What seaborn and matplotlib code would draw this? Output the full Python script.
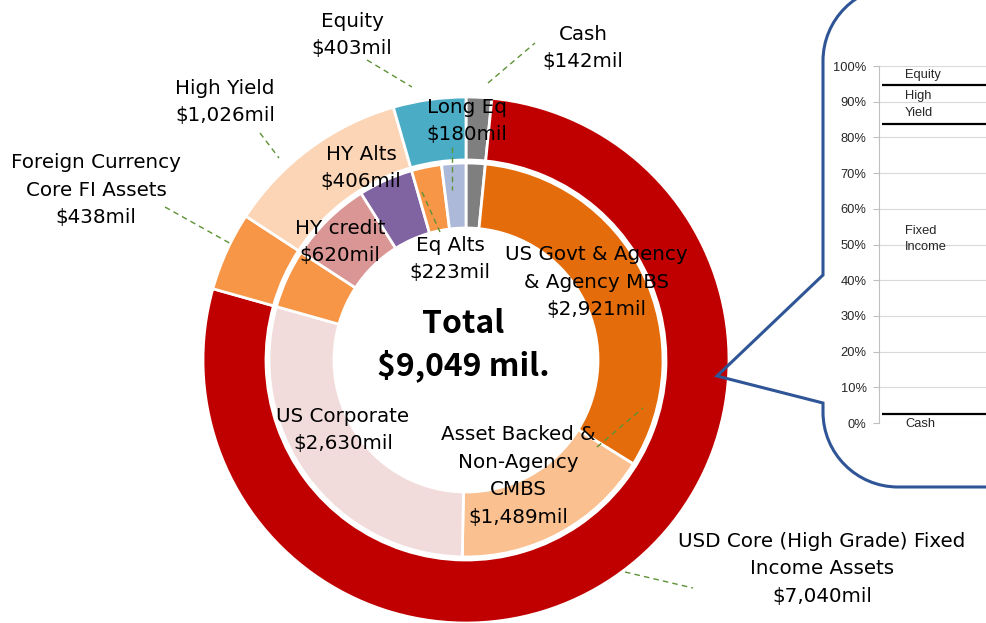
import numpy as np
import matplotlib
matplotlib.use("Agg")
import matplotlib.pyplot as plt
from matplotlib.path import Path
from matplotlib.patches import PathPatch
import seaborn as sns

# ---------------- data ----------------
outer_labels = ["Cash", "USD Core (High Grade) Fixed\nIncome Assets",
                "Foreign Currency\nCore FI Assets", "High Yield", "Equity"]
outer_values = [142, 7040, 438, 1026, 403]
outer_colors = ["#7F7F7F", "#C00000", "#F79646", "#FBD5B5", "#4BACC6"]

inner_labels = ["Cash", "US Govt & Agency\n& Agency MBS", "Asset Backed &\nNon-Agency\nCMBS",
                "US Corporate", "Foreign Currency", "HY credit", "HY Alts", "Eq Alts", "Long Eq"]
inner_values = [142, 2921, 1489, 2630, 438, 620, 406, 223, 180]
inner_colors = ["#7F7F7F", "#E46C0A", "#FAC090", "#F2DCDB", "#F79646",
                "#D99694", "#8064A2", "#F79646", "#ADB9D8"]

callout_labels = ["Cash", "Fixed\nIncome", "High\nYield", "Equity"]
callout_bounds = [0.025, 0.837, 0.947]          # black separators (share of total)
callout_ticks = [0, 10, 20, 30, 40, 50, 60, 70, 80, 90, 100]

# ---------------- style ----------------
sns.set_theme(style="white")
plt.rcParams['font.family'] = ['DejaVu Sans', 'Noto Sans CJK JP']

W, H = 986, 623
fig = plt.figure(figsize=(W / 100, H / 100), dpi=100)
ax = fig.add_axes([0, 0, 1, 1])

def Y(py):
    return H - py

CX, CY = 466, Y(360)
ax.pie(outer_values, colors=outer_colors, radius=263, center=(CX, CY),
       startangle=90, counterclock=False, frame=False,
       wedgeprops=dict(width=63, edgecolor="white", linewidth=2))
ax.pie(inner_values, colors=inner_colors, radius=197, center=(CX, CY),
       startangle=90, counterclock=False, frame=False,
       wedgeprops=dict(width=65, edgecolor="white", linewidth=2))
ax.set_xlim(0, W)
ax.set_ylim(0, H)
ax.set_aspect("auto")
ax.axis("off")

FS = 14.3
LS = 1.58

def lab(text, x, y, fs=FS, ls=LS, **kw):
    ax.text(x, Y(y), text, ha="center", va="center", fontsize=fs,
            linespacing=ls, color="black", zorder=5, **kw)

def money(v):
    return f"${v:,}mil"

# outer labels
lab(f"{outer_labels[4]}\n{money(outer_values[4])}", 352, 35)
lab(f"{outer_labels[0]}\n{money(outer_values[0])}", 583, 48)
lab(f"{outer_labels[3]}\n{money(outer_values[3])}", 225, 102)
lab(f"{outer_labels[2]}\n{money(outer_values[2])}", 96, 190)
lab(f"{outer_labels[1]}\n{money(outer_values[1])}", 822, 569)

# inner labels
lab(f"{inner_labels[1]}\n{money(inner_values[1])}", 596, 282)
lab(f"{inner_labels[2]}\n{money(inner_values[2])}", 518, 476)
lab(f"{inner_labels[3]}\n{money(inner_values[3])}", 343, 430)
lab(f"{inner_labels[5]}\n{money(inner_values[5])}", 340, 242)
lab(f"{inner_labels[6]}\n{money(inner_values[6])}", 361, 168)
lab(f"{inner_labels[7]}\n{money(inner_values[7])}", 450, 259)
lab(f"{inner_labels[8]}\n{money(inner_values[8])}", 467, 121)

total = sum(outer_values)
lab(f"Total\n${total:,} mil.", 463, 345, fs=23, ls=1.37, fontweight="bold",
    fontfamily=["Noto Sans CJK JP", "DejaVu Sans"])

# leader lines
leaders = [((367, 60), (412, 87)), ((260, 133), (279, 158)), ((165, 207), (233, 245)),
           ((488, 83), (535, 43)), ((625, 572), (693, 588)), ((597, 447), (643, 408)),
           ((422, 192), (440, 232)), ((452, 147), (452, 190))]
for (x0, y0), (x1, y1) in leaders:
    ax.plot([x0, x1], [Y(y0), Y(y1)], color="#5E9236", lw=1.0,
            dashes=(4, 3), zorder=6)

# callout shape
k = 0.5523
r = 75
verts = [(1010, -14), (898, -14),
         (898 - k * r, -14), (823, 61 - k * r), (823, 61),
         (823, 275), (717, 376), (823, 403), (823, 412),
         (823, 412 + k * r), (898 - k * r, 487), (898, 487),
         (1010, 487)]
codes = [Path.MOVETO, Path.LINETO,
         Path.CURVE4, Path.CURVE4, Path.CURVE4,
         Path.LINETO, Path.LINETO, Path.LINETO, Path.LINETO,
         Path.CURVE4, Path.CURVE4, Path.CURVE4,
         Path.LINETO]
verts = [(x, Y(y)) for x, y in verts]
ax.add_patch(PathPatch(Path(verts, codes), facecolor="none",
                       edgecolor="#2F5597", lw=2.2, zorder=7, clip_on=False))

# callout inner chart
cax = fig.add_axes([879 / W, (H - 423) / H, 300 / W, 357 / H])
cax.set_facecolor("none")
cax.set_xlim(0, 1)
cax.set_ylim(0, 1)
cax.set_yticks([t / 100 for t in callout_ticks])
cax.set_yticklabels([f"{t}%" for t in callout_ticks],
                    fontfamily="Liberation Sans", fontsize=9.3, color="#262626")
cax.set_xticks([])
cax.tick_params(axis="y", left=True, length=4, width=0.8, color="#BFBFBF", pad=5)
cax.grid(axis="y", color="#D9D9D9", lw=0.8)
sns.despine(ax=cax, top=True, right=True, bottom=True)
cax.spines["left"].set_color("#BFBFBF")
cax.spines["left"].set_linewidth(0.8)
cax.hlines(callout_bounds, 0.01, 1, color="black", lw=1.6, zorder=3)
label_y = [-0.003, 0.515, 0.892, 0.975]
for t, yy in zip(callout_labels, label_y):
    cax.text(26 / 300, yy, t, ha="left", va="center", fontsize=9.3,
             fontfamily="Liberation Sans", color="#262626", linespacing=1.5,
             clip_on=False)

fig.savefig("out.png", dpi=100)
